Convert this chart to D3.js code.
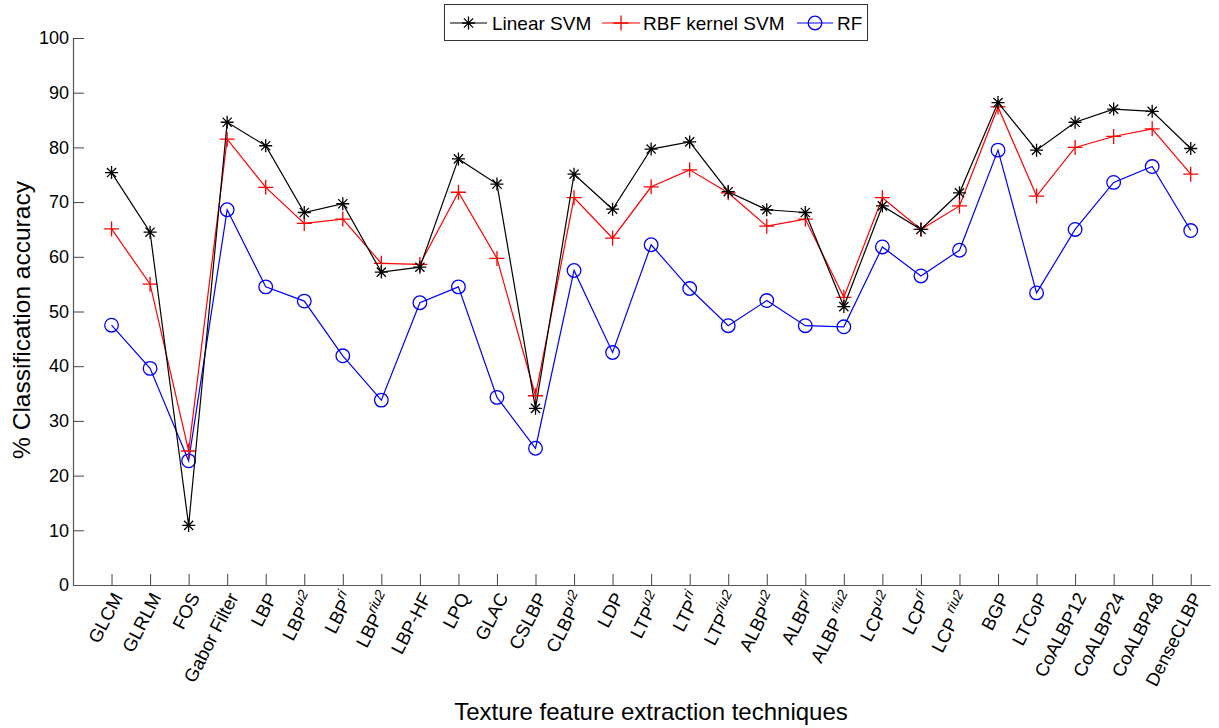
<!DOCTYPE html>
<html>
<head>
<meta charset="utf-8">
<script src="https://cdn.jsdelivr.net/npm/d3@7"></script>
<style>
  html, body { margin: 0; padding: 0; background: #fff; }
  svg { display: block; font-family: Arial, "Liberation Sans", sans-serif; }
</style>
</head>
<body>
<svg id="chart" width="1219" height="728"></svg>
<script>
// Texture descriptors (base name + optional superscript)
const labelBase = ["GLCM", "GLRLM", "FOS", "Gabor Filter", "LBP", "LBP", "LBP", "LBP", "LBP-HF",
  "LPQ", "GLAC", "CSLBP", "CLBP", "LDP", "LTP", "LTP", "LTP", "ALBP", "ALBP", "ALBP ",
  "LCP", "LCP", "LCP ", "BGP", "LTCoP", "CoALBP12", "CoALBP24", "CoALBP48", "DenseCLBP"];
const labelSup = ["", "", "", "", "", "u2", "ri", "riu2", "",
  "", "", "", "u2", "", "u2", "ri", "riu2", "u2", "ri", "riu2",
  "u2", "ri", "riu2", "", "", "", "", "", ""];

// Classification accuracy (%) per classifier
const linearSVM = [75.4, 64.5, 10.9, 84.6, 80.3, 68.1, 69.7, 57.2, 58.1, 77.9, 73.3, 32.3, 75.1, 68.7,
  79.7, 81.0, 71.9, 68.6, 68.1, 50.9, 69.3, 65.0, 71.7, 88.2, 79.5, 84.6, 87.0, 86.6, 79.8];
const rbfSVM = [65.1, 55.0, 24.5, 81.5, 72.7, 66.1, 66.9, 58.8, 58.6, 71.8, 59.7, 34.6, 70.8, 63.4,
  72.8, 75.9, 71.7, 65.6, 66.9, 52.6, 70.8, 65.0, 69.3, 87.4, 71.1, 80.0, 82.0, 83.4, 75.1];
const randomForest = [47.5, 39.6, 22.7, 68.6, 54.5, 51.9, 41.9, 33.8, 51.6, 54.5, 34.3, 25.0, 57.5, 42.5,
  62.2, 54.2, 47.4, 52.0, 47.4, 47.2, 61.8, 56.5, 61.2, 79.5, 53.4, 65.0, 73.6, 76.5, 64.8];

const yTicks = [0, 10, 20, 30, 40, 50, 60, 70, 80, 90, 100];
const seriesNames = ["Linear SVM", "RBF kernel SVM", "RF"];

const svg = d3.select("#chart");
const x = d3.scaleLinear().domain([0, 29.5]).range([73, 1210]);
const y = d3.scaleLinear().domain([0, 100]).range([585, 38]);
const idx = d3.range(1, labelBase.length + 1);

// Axes (ticks point inward)
const yAxis = d3.axisLeft(y).tickValues(yTicks).tickSizeInner(-11).tickSizeOuter(0).tickPadding(4);
const gy = svg.append("g").attr("transform", `translate(${x(0)},0)`).call(yAxis);
gy.select(".domain").attr("stroke", "#555").attr("stroke-width", 1.2);
gy.selectAll(".tick line").attr("stroke", "#444");
gy.selectAll(".tick text").attr("font-size", 18).attr("fill", "#000")
  .attr("font-family", "Arial, 'Liberation Sans', sans-serif");

const xAxis = d3.axisBottom(x).tickValues(idx).tickSizeInner(-11).tickSizeOuter(0).tickFormat("");
const gx = svg.append("g").attr("transform", `translate(0,${y(0)})`).call(xAxis);
gx.select(".domain").attr("stroke", "#555").attr("stroke-width", 1.2);
gx.selectAll(".tick line").attr("stroke", "#444");

// Rotated category labels with superscripts
const lbl = svg.append("g").attr("font-size", 18.5).attr("fill", "#000");
idx.forEach((d, i) => {
  const t = lbl.append("text")
    .attr("transform", `translate(${x(d) + 6},${y(0) + 9}) rotate(-63)`)
    .attr("text-anchor", "end")
    .attr("dy", "0.35em");
  t.append("tspan").text(labelBase[i]);
  if (labelSup[i]) {
    t.append("tspan").text(labelSup[i])
      .attr("font-size", 14).attr("font-style", "italic").attr("dy", "-0.6em");
  }
});

// Axis titles
svg.append("text").attr("x", 651).attr("y", 720).attr("text-anchor", "middle")
  .attr("font-size", 24).text("Texture feature extraction techniques");
svg.append("text").attr("transform", "translate(30,320) rotate(-90)").attr("text-anchor", "middle")
  .attr("font-size", 24.5).text("% Classification accuracy");

// Marker shapes
function star(g, cx, cy, color) {
  const a = 6.5, b = 4.6;
  g.append("path")
    .attr("d", `M${cx - a},${cy}H${cx + a}M${cx},${cy - a}V${cy + a}` +
      `M${cx - b},${cy - b}L${cx + b},${cy + b}M${cx - b},${cy + b}L${cx + b},${cy - b}`)
    .attr("stroke", color).attr("stroke-width", 1.3).attr("fill", "none");
}
function plus(g, cx, cy, color) {
  const a = 7.5;
  g.append("path")
    .attr("d", `M${cx - a},${cy}H${cx + a}M${cx},${cy - a}V${cy + a}`)
    .attr("stroke", color).attr("stroke-width", 1.3).attr("fill", "none");
}
function circ(g, cx, cy, color) {
  g.append("circle").attr("cx", cx).attr("cy", cy).attr("r", 6.8)
    .attr("stroke", color).attr("stroke-width", 1.3).attr("fill", "none");
}

const series = [
  { name: seriesNames[0], values: linearSVM, color: "#000000", marker: star },
  { name: seriesNames[1], values: rbfSVM, color: "#ff0000", marker: plus },
  { name: seriesNames[2], values: randomForest, color: "#0000ff", marker: circ }
];

const line = d3.line().x((d, i) => x(idx[i])).y(d => y(d));
// Draw RF first so SVM lines sit on top
[...series].reverse().forEach(s => {
  const g = svg.append("g");
  g.append("path").datum(s.values).attr("d", line)
    .attr("fill", "none").attr("stroke", s.color).attr("stroke-width", 1.2);
  s.values.forEach((v, i) => s.marker(g, x(idx[i]), y(v), s.color));
});

// Legend
const lg = svg.append("g");
lg.append("rect").attr("x", 444.5).attr("y", 4.5).attr("width", 423).attr("height", 36)
  .attr("fill", "#fff").attr("stroke", "#333").attr("stroke-width", 1);
const legendPos = [
  { x1: 450, x2: 487, tx: 492 },
  { x1: 602, x2: 640, tx: 643 },
  { x1: 797, x2: 833, tx: 837 }
];
series.forEach((s, i) => {
  const p = legendPos[i];
  const cy = 23;
  lg.append("line").attr("x1", p.x1).attr("x2", p.x2).attr("y1", cy).attr("y2", cy)
    .attr("stroke", s.color).attr("stroke-width", 1.2);
  s.marker(lg, (p.x1 + p.x2) / 2, cy, s.color);
  lg.append("text").attr("x", p.tx).attr("y", cy + 7).attr("font-size", 19).text(s.name);
});
</script>
</body>
</html>
